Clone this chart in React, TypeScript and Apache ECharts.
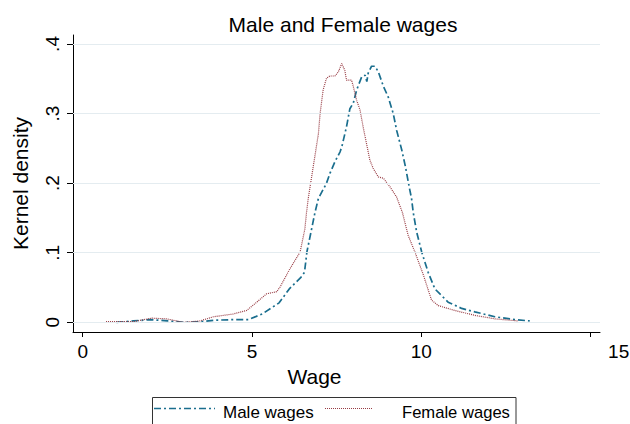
import React, { useEffect, useRef } from 'react';
import * as echarts from 'echarts';

const titleText = 'Male and Female wages';
const xName = 'Wage';
const yName = 'Kernel density';
const seriesNames = ['Male wages', 'Female wages'];
const xTicks = [0, 5, 10, 15];
const yTicks = [0, 0.1, 0.2, 0.3, 0.4];

const maleX = [1.0, 1.5, 2.0, 2.5, 3.0, 3.5, 3.9, 4.5, 4.9, 5.3, 5.8, 6.1, 6.45, 6.55, 6.62, 6.86, 6.96, 7.2, 7.3, 7.45, 7.6, 7.65, 7.79, 7.89, 7.99, 8.09, 8.24, 8.34, 8.39, 8.43, 8.53, 8.63, 8.73, 8.88, 9.02, 9.17, 9.27, 9.42, 9.52, 9.66, 9.71, 9.76, 9.86, 10.01, 10.2, 10.4, 10.79, 11.19, 11.58, 12.17, 12.76, 13.2];
const maleY = [0.0, 0.002, 0.004, 0.002, 0.0, 0.001, 0.003, 0.004, 0.004, 0.012, 0.028, 0.048, 0.065, 0.072, 0.101, 0.158, 0.178, 0.2, 0.214, 0.231, 0.245, 0.252, 0.281, 0.307, 0.315, 0.334, 0.353, 0.355, 0.346, 0.358, 0.368, 0.368, 0.36, 0.339, 0.324, 0.3, 0.276, 0.248, 0.226, 0.19, 0.178, 0.158, 0.13, 0.101, 0.072, 0.048, 0.029, 0.02, 0.015, 0.008, 0.004, 0.002];

const femaleX = [0.69, 1.49, 2.04, 2.48, 2.97, 3.46, 3.86, 4.45, 4.84, 5.14, 5.43, 5.73, 5.83, 6.12, 6.42, 6.56, 6.61, 6.66, 6.86, 6.96, 7.01, 7.1, 7.2, 7.3, 7.45, 7.55, 7.65, 7.74, 7.79, 7.94, 7.99, 8.09, 8.19, 8.28, 8.38, 8.48, 8.58, 8.73, 8.88, 9.07, 9.27, 9.44, 9.61, 9.81, 10.06, 10.3, 10.5, 10.99, 11.58, 12.17, 12.86];
const femaleY = [0.001, 0.001, 0.006, 0.005, 0.0, 0.002, 0.008, 0.012, 0.017, 0.029, 0.041, 0.044, 0.051, 0.077, 0.101, 0.134, 0.158, 0.178, 0.24, 0.271, 0.3, 0.334, 0.351, 0.354, 0.354, 0.36, 0.372, 0.362, 0.348, 0.348, 0.339, 0.319, 0.305, 0.281, 0.257, 0.233, 0.221, 0.209, 0.207, 0.195, 0.18, 0.158, 0.125, 0.101, 0.068, 0.032, 0.024, 0.017, 0.01, 0.005, 0.002];

const maleColor = '#1a6e8e';
const femaleColor = '#983c44';
const gridColor = '#e4ecf0';
const font = '"Liberation Sans", Arial, sans-serif';

export default function App() {
  const ref = useRef<HTMLDivElement>(null);
  useEffect(() => {
    const chart = echarts.init(ref.current!, null, { renderer: 'svg' });
    const fmtY = (v: number) => (v === 0 ? '0' : String(v).replace(/^0/, ''));
    chart.setOption({
      animation: false,
      backgroundColor: '#fff',
      textStyle: { fontFamily: font },
      title: {
        text: titleText,
        left: 338,
        textAlign: 'center',
        top: 9,
        textStyle: { fontSize: 21, fontWeight: 'normal', color: '#000', fontFamily: font },
      },
      grid: { left: 73, right: 30, top: 35, bottom: 92, containLabel: false, outerBoundsMode: 'none' },
      xAxis: {
        type: 'value',
        min: -0.286,
        max: 15.275,
        name: xName,
        nameLocation: 'middle',
        nameGap: 27,
        nameTextStyle: { fontSize: 21, color: '#000', fontFamily: font, padding: [0, 44, 0, 0] },
        axisLine: { show: true, onZero: false, lineStyle: { color: '#000', width: 1 } },
        axisTick: { show: true, length: 5, customValues: xTicks, lineStyle: { color: '#000' } },
        axisLabel: {
          customValues: xTicks,
          fontSize: 19,
          color: '#000',
          fontFamily: font,
          margin: 10,
          formatter: (v: number) => (v === 15 ? '{r|15}' : String(v)),
          rich: { r: { padding: [0, 0, 0, 56], fontSize: 19, color: '#000', fontFamily: font } },
        },
        splitLine: { show: false },
      },
      yAxis: {
        type: 'value',
        min: -0.0139,
        max: 0.4129,
        name: yName,
        nameLocation: 'middle',
        nameGap: 42,
        nameRotate: 90,
        nameTextStyle: { fontSize: 21, color: '#000', fontFamily: font },
        axisLine: { show: true, onZero: false, lineStyle: { color: '#000', width: 1 } },
        axisTick: { show: true, length: 6, customValues: yTicks, lineStyle: { color: '#000' } },
        axisLabel: {
          customValues: yTicks,
          rotate: 90,
          fontSize: 19,
          color: '#000',
          fontFamily: font,
          margin: 11,
          formatter: fmtY,
        },
        splitLine: { show: false },
      },
      series: [
        {
          type: 'line',
          data: [],
          silent: true,
          z: 1,
          markLine: {
            silent: true,
            symbol: ['none', 'none'],
            label: { show: false },
            lineStyle: { color: gridColor, width: 1.2, type: 'solid' },
            emphasis: { disabled: true },
            data: yTicks.map((v) => ({ yAxis: v })),
          },
        },
        {
          name: seriesNames[0],
          type: 'line',
          z: 3,
          symbol: 'none',
          data: maleX.map((x, i) => [x, maleY[i]]),
          lineStyle: { color: maleColor, width: 1.7, type: [7, 3, 2, 3] },
        },
        {
          name: seriesNames[1],
          type: 'line',
          z: 3,
          symbol: 'none',
          data: femaleX.map((x, i) => [x, femaleY[i]]),
          lineStyle: { color: femaleColor, width: 1.2, type: [1, 1] },
        },
      ],
      graphic: [
        {
          type: 'rect',
          shape: { x: 152.5, y: 397.5, width: 363.5, height: 40 },
          style: { fill: '#fff', stroke: '#333', lineWidth: 1 },
        },
        {
          type: 'line',
          shape: { x1: 154, y1: 408.5, x2: 215, y2: 408.5 },
          style: { stroke: maleColor, lineWidth: 1.7, lineDash: [7, 3, 2, 3] },
        },
        {
          type: 'text',
          x: 223,
          y: 412,
          style: { text: seriesNames[0], fontSize: 17, fontFamily: font, fill: '#000', verticalAlign: 'middle', align: 'left' },
        },
        {
          type: 'line',
          shape: { x1: 325, y1: 408.5, x2: 373, y2: 408.5 },
          style: { stroke: femaleColor, lineWidth: 1.2, lineDash: [1, 1] },
        },
        {
          type: 'text',
          x: 402,
          y: 412,
          style: { text: seriesNames[1], fontSize: 16.6, fontFamily: font, fill: '#000', verticalAlign: 'middle', align: 'left' },
        },
      ],
    });
    return () => chart.dispose();
  }, []);
  return <div ref={ref} style={{ position: 'absolute', left: 0, top: 0, width: 630, height: 424 }} />;
}
